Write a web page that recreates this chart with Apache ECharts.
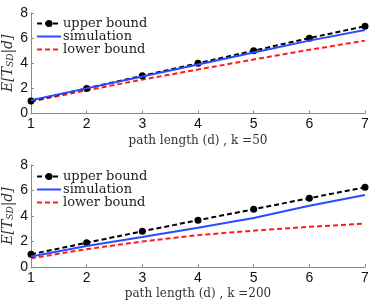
<!DOCTYPE html>
<html><head><meta charset="utf-8">
<script src="https://cdn.jsdelivr.net/npm/echarts@6/dist/echarts.min.js"></script>
<style>html,body{margin:0;padding:0;background:#fff}#c{width:374px;height:304px}</style>
</head><body><div id="c"></div>
<script>
const pathLength = [1, 2, 3, 4, 5, 6, 7];
const yTicks = [0, 2, 4, 6, 8];
// k = 50
const upper50 = [1.0, 2.0, 3.0, 4.0, 5.0, 6.0, 6.95];
const sim50 = [1.05, 2.0, 2.95, 3.9, 4.85, 5.8, 6.65];
const lower50 = [0.95, 1.85, 2.7, 3.5, 4.3, 5.07, 5.8];
// k = 200
const upper200 = [1.0, 1.9, 2.8, 3.67, 4.53, 5.4, 6.25];
const sim200 = [0.82, 1.65, 2.35, 3.07, 3.85, 4.8, 5.65];
const lower200 = [0.68, 1.4, 2.0, 2.5, 2.85, 3.15, 3.4];
const xTitles = ['path length (d) , k =50', 'path length (d) , k =200'];
const names = ['upper bound', 'simulation', 'lower bound'];

const serif = 'DejaVu Serif';
const axisCol = '#8a8a8a';
function pairs(ys) { return pathLength.map((x, i) => [x, ys[i]]); }

const grids = [
  {left: 31, right: 9, top: 13, height: 100.5, containLabel: false, outerBoundsMode: 'none'},
  {left: 31, right: 9, top: 165, height: 102, containLabel: false, outerBoundsMode: 'none'}
];
const xAxes = xTitles.map((t, i) => ({
  type: 'value', gridIndex: i, min: 1, max: 7, interval: 1,
  name: t, nameLocation: 'middle', nameGap: 21, nameMoveOverlap: false,
  nameTextStyle: {fontFamily: serif, fontSize: 12, color: '#333'},
  axisLine: {lineStyle: {color: axisCol, width: 1}},
  axisTick: {inside: true, length: 3, lineStyle: {color: axisCol}},
  axisLabel: {fontFamily: 'Liberation Sans', fontSize: 14, color: '#111', margin: 4},
  splitLine: {show: false}
}));
const yAxes = [0, 1].map(i => ({
  type: 'value', gridIndex: i, min: yTicks[0], max: yTicks[yTicks.length - 1], interval: 2,
  name: '{it|E[T}{sub|SD}{it||d]}', nameLocation: 'middle', nameGap: 16, nameRotate: 90,
  nameMoveOverlap: false,
  nameTextStyle: {rich: {
    it: {fontFamily: serif, fontStyle: 'italic', fontSize: 14, color: '#333', verticalAlign: 'bottom', lineHeight: 16},
    sub: {fontFamily: serif, fontStyle: 'italic', fontSize: 9, color: '#333', verticalAlign: 'bottom', lineHeight: 12}
  }},
  axisLine: {show: true, lineStyle: {color: axisCol, width: 1}},
  axisTick: {show: true, inside: true, length: 3, lineStyle: {color: axisCol}},
  axisLabel: {fontFamily: 'Liberation Sans', fontSize: 14, color: '#111', margin: 3},
  splitLine: {show: false}
}));

const datasets = [[upper50, sim50, lower50], [upper200, sim200, lower200]];
const series = [];
datasets.forEach((set, g) => {
  series.push({
    name: names[0], type: 'line', xAxisIndex: g, yAxisIndex: g, data: pairs(set[0]),
    symbol: 'circle', symbolSize: 7, showSymbol: true,
    itemStyle: {color: '#000'}, lineStyle: {color: '#000', width: 2, type: [5, 3]},
    z: 3, animation: false
  });
  series.push({
    name: names[1], type: 'line', xAxisIndex: g, yAxisIndex: g, data: pairs(set[1]),
    symbol: 'none', itemStyle: {color: '#2a4bff'}, lineStyle: {color: '#2a4bff', width: 2},
    z: 4, animation: false
  });
  series.push({
    name: names[2], type: 'line', xAxisIndex: g, yAxisIndex: g, data: pairs(set[2]),
    symbol: 'none', itemStyle: {color: '#ff1a1a'}, lineStyle: {color: '#ff1a1a', width: 2, type: [5, 3]},
    z: 2, animation: false
  });
});

const legendData = names.map((n, i) => i === 0 ? {name: n} : {name: n, itemStyle: {opacity: 0}});
const legends = [17, 170].map(top => ({
  data: legendData, orient: 'vertical', left: 36, top: top, itemGap: 0,
  itemWidth: 24, itemHeight: 9, padding: 0,
  textStyle: {fontFamily: serif, fontSize: 13, lineHeight: 12.5, color: '#222', padding: [0, 0, 0, -3]},
  selectedMode: false
}));

const chart = echarts.init(document.getElementById('c'), null, {renderer: 'canvas'});
chart.setOption({
  animation: false,
  backgroundColor: '#fff',
  grid: grids, xAxis: xAxes, yAxis: yAxes, series: series, legend: legends
});
</script></body></html>
